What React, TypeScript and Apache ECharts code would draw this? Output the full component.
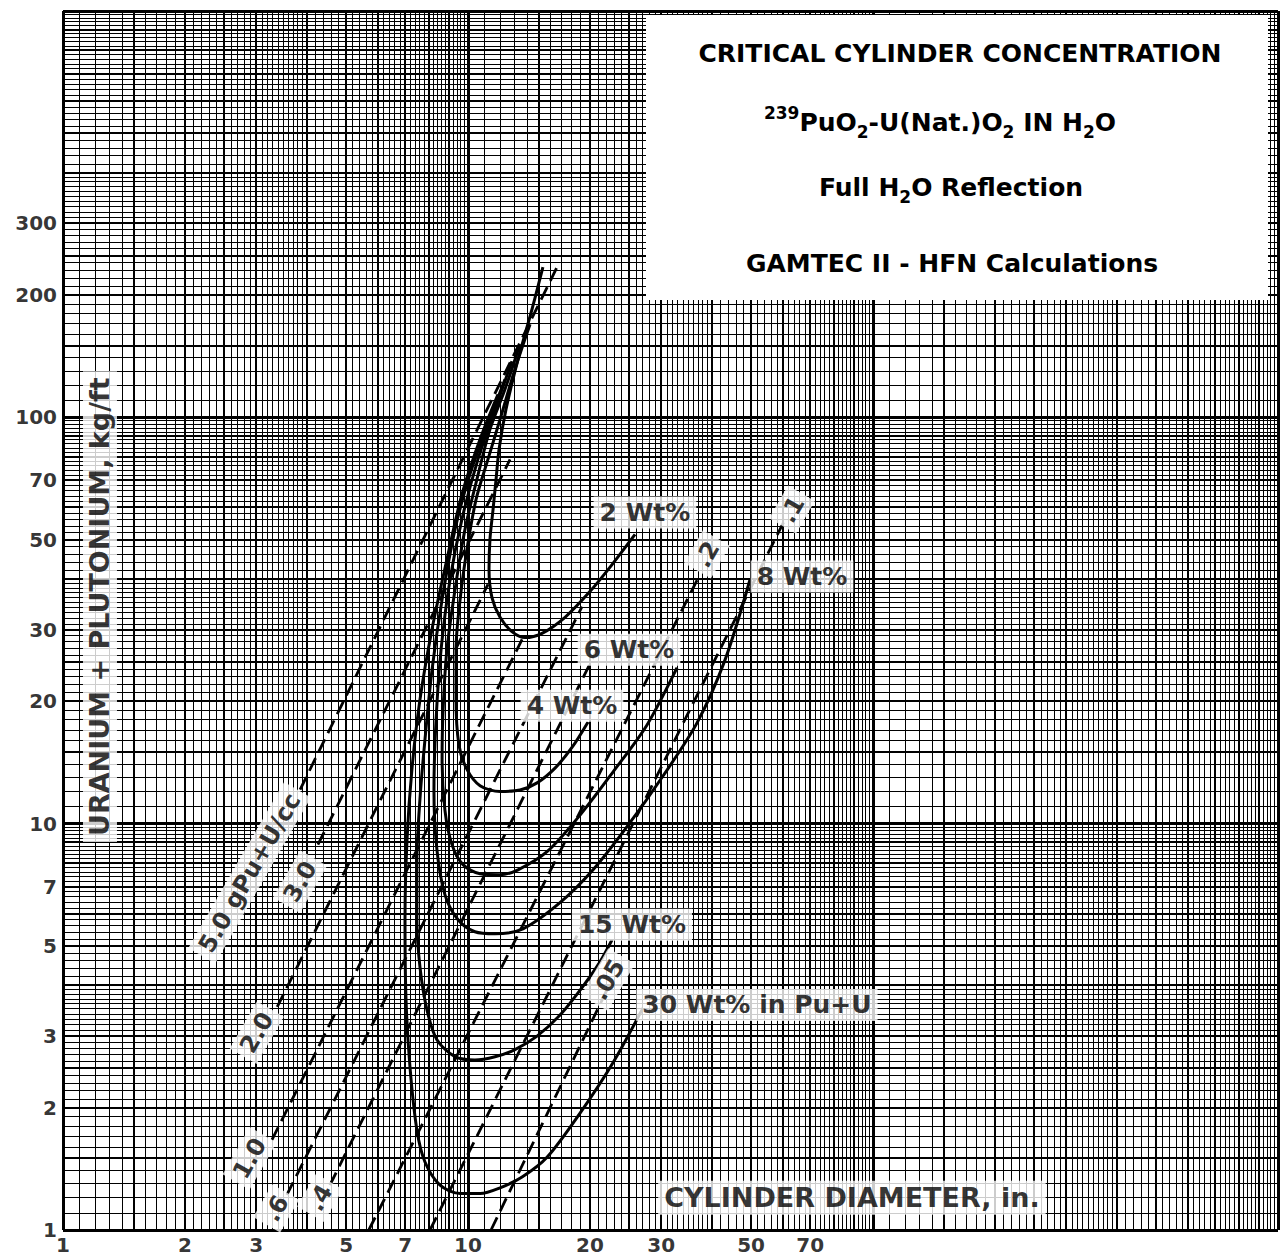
import React, { useEffect, useRef } from "react";
import * as echarts from "echarts";

const FONT = '"DejaVu Sans", "Liberation Sans", sans-serif';

// ---- axis tick labels ----
const xTickValues = [1, 2, 3, 5, 7, 10, 20, 30, 50, 70];
const yTickValues = [1, 2, 3, 5, 7, 10, 20, 30, 50, 70, 100, 200, 300];

// ---- log-paper rulings (mantissas inside each decade) ----
const rulingMantissas = [
  1, 1.1, 1.2, 1.3, 1.4, 1.5, 1.6, 1.7, 1.8, 1.9,
  2, 2.1, 2.2, 2.3, 2.4, 2.5, 2.6, 2.7, 2.8, 2.9,
  3, 3.1, 3.2, 3.3, 3.4, 3.5, 3.6, 3.7, 3.8, 3.9,
  4, 4.2, 4.4, 4.6, 4.8, 5, 5.2, 5.4, 5.6, 5.8,
  6, 6.2, 6.4, 6.6, 6.8, 7, 7.2, 7.4, 7.6, 7.8,
  8, 8.2, 8.4, 8.6, 8.8, 9, 9.2, 9.4, 9.6, 9.8,
];
const heavyMantissas = [2, 3, 4, 5, 6, 7, 8, 9];
const mediumMantissas = [1.5, 2.5];
const decades = [1, 10, 100];
const axisMin = 1;
const axisMax = 1000;

// ---- critical-concentration curves (diameter in., kg/ft) ----
const curveNames = ["2 Wt%", "4 Wt%", "6 Wt%", "8 Wt%", "15 Wt%", "30 Wt%"];
const curve2Wt = [[15.31,234.2],[14.39,184.5],[13.29,138.9],[12.41,104.6],[11.93,83.4],[11.73,70.4],[11.53,59.3],[11.33,50.1],[11.27,42.2],[11.46,36.0],[12.0,32.2],[12.84,29.7],[13.83,28.7],[15.23,29.4],[17.36,32.2],[20.02,37.3],[22.68,43.4],[25.85,51.5]];
const curve4Wt = [[14.23,169.5],[13.06,131.3],[12.0,98.9],[11.2,78.8],[10.47,62.8],[9.94,47.3],[9.56,35.6],[9.34,26.8],[9.34,20.2],[9.5,15.6],[9.94,13.6],[10.71,12.4],[12.0,12.0],[13.44,12.1],[14.81,12.6],[16.4,13.7],[18.06,15.4],[19.79,17.8]];
const curve6Wt = [[13.44,151.3],[12.34,117.2],[11.33,93.4],[10.52,70.4],[9.83,53.0],[9.29,37.7],[8.87,26.8],[8.68,19.1],[8.63,14.4],[8.77,10.8],[9.13,8.88],[9.72,7.93],[10.71,7.53],[12.0,7.49],[13.29,7.7],[15.67,8.53],[18.91,10.5],[22.8,13.4],[27.67,17.5],[32.81,24.2]];
const curve8Wt = [[12.84,137.4],[11.66,104.6],[10.58,78.8],[9.66,56.1],[9.03,39.9],[8.58,26.8],[8.34,18.0],[8.24,12.1],[8.38,8.63],[8.77,6.69],[9.45,5.8],[10.4,5.42],[11.66,5.36],[13.67,5.51],[16.87,6.39],[20.36,7.7],[24.7,9.83],[30.3,13.1],[36.77,17.7],[43.12,25.3],[49.7,39.9]];
const curve15Wt = [[12.34,124.1],[11.2,96.1],[10.11,72.4],[9.29,53.0],[8.63,35.6],[8.15,23.9],[7.83,16.1],[7.61,11.5],[7.48,8.15],[7.48,5.8],[7.61,4.44],[7.92,3.48],[8.38,2.94],[9.29,2.67],[10.4,2.62],[11.66,2.67],[13.06,2.78],[14.81,3.0],[16.87,3.38],[19.12,3.95],[21.18,4.57],[22.68,5.18]];
const curve30Wt = [[11.86,113.9],[10.71,88.3],[9.66,64.6],[8.87,44.7],[8.15,30.1],[7.61,20.2],[7.27,13.6],[7.07,9.13],[6.99,5.8],[7.03,3.69],[7.19,2.52],[7.48,1.76],[7.83,1.47],[8.53,1.29],[9.56,1.23],[10.71,1.23],[12.0,1.27],[13.6,1.35],[15.67,1.51],[18.91,1.94],[22.8,2.58],[27.05,3.52]];
const curves = [curve2Wt, curve4Wt, curve6Wt, curve8Wt, curve15Wt, curve30Wt];

const wtLabelTexts = ["2 Wt%", "4 Wt%", "6 Wt%", "8 Wt%", "15 Wt%", "30 Wt% in Pu+U"];
const wtLabelAnchors = [[27.35,58.3],[18.06,19.5],[24.98,26.8],[66.8,40.6],[25.4,5.64],[51.7,3.58]];

// ---- constant-density lines (g Pu+U / cc) ----
const densityLabels = ["5.0 gPu+U/cc", "3.0", "2.0", "1.0", ".6", ".4", ".2", ".1", ".05"];
const densityLineStart = [[3.85,12.13],[4.26,8.88],[3.38,3.54],[3.28,1.666],[3.57,1.22],[4.56,1.29],[5.69,1],[8.06,1],[11.4,1]];
const densityLineEnd = [[16.59,234.2],[12.7,78.8],[11.2,38.8],[13.6,28.4],[19.12,34.2],[20.83,26.8],[37.4,41.06],[60.63,56.1],[22.04,3.9]];
const densityLabelAnchors = [[2.89,7.57],[3.85,7.2],[3.01,3.06],[2.89,1.5],[3.36,1.13],[4.31,1.2],[38.9,46.0],[63.1,59.3],[22.17,4.13]];

// ---- axis titles ----
const xAxisTitle = "CYLINDER DIAMETER, in.";
const xAxisTitleAnchor = [88.7, 1.2];
const yAxisTitle = "URANIUM + PLUTONIUM, kg/ft";
const yAxisTitleAnchor = [1.234, 34.2];

function buildRulings() {
  const out: number[][] = [];
  decades.forEach((d) => {
    rulingMantissas.forEach((m) => {
      const v = Math.round(m * d * 1e6) / 1e6;
      let w = 1;
      if (m === 1) w = 3;
      else if (heavyMantissas.includes(m)) w = 2;
      else if (mediumMantissas.includes(m)) w = 2;
      out.push([v, w]);
    });
  });
  out.push([axisMax, 3]);
  return out;
}

function crisp(p: number, w: number) {
  return w % 2 === 1 ? Math.round(p - 0.5) + 0.5 : Math.round(p);
}

export default function App() {
  const ref = useRef<HTMLDivElement>(null);

  useEffect(() => {
    if (!ref.current) return;
    const chart = echarts.init(ref.current, undefined, { renderer: "svg" });
    const rulings = buildRulings();

    const labelBase = {
      show: true,
      color: "#000",
      fontFamily: FONT,
      fontWeight: "bold" as const,
    };

    const series: any[] = [];

    // vertical rulings
    series.push({
      type: "custom",
      silent: true,
      z: 1,
      clip: false,
      data: rulings.map((r) => [r[0], axisMin, r[1]]),
      renderItem: (params: any, api: any) => {
        const v = api.value(0);
        const w = api.value(2);
        const a = api.coord([v, axisMin]);
        const b = api.coord([v, axisMax]);
        const x = crisp(a[0], w);
        return {
          type: "line",
          shape: { x1: x, y1: a[1], x2: x, y2: b[1] },
          style: { stroke: "#000", lineWidth: w },
        };
      },
    });
    // horizontal rulings
    series.push({
      type: "custom",
      silent: true,
      z: 1,
      clip: false,
      data: rulings.map((r) => [axisMin, r[0], r[1]]),
      renderItem: (params: any, api: any) => {
        const v = api.value(1);
        const w = api.value(2);
        const a = api.coord([axisMin, v]);
        const b = api.coord([axisMax, v]);
        const y = crisp(a[1], w);
        return {
          type: "line",
          shape: { x1: a[0], y1: y, x2: b[0], y2: y },
          style: { stroke: "#000", lineWidth: w },
        };
      },
    });

    // density dashed lines
    densityLabels.forEach((name, i) => {
      series.push({
        type: "line",
        name: name,
        z: 3,
        silent: true,
        showSymbol: false,
        symbol: "none",
        data: [densityLineStart[i], densityLineEnd[i]],
        lineStyle: { color: "#000", width: 2.8, type: [14, 7] },
      });
    });

    // Wt% curves
    curves.forEach((c, i) => {
      series.push({
        type: "line",
        name: curveNames[i],
        z: 4,
        silent: true,
        showSymbol: false,
        symbol: "none",
        smooth: 0.3,
        data: c,
        lineStyle: { color: "#000", width: 3 },
      });
    });

    // tick labels (x)
    series.push({
      type: "scatter",
      silent: true,
      clip: false,
      z: 6,
      symbolSize: 0,
      data: xTickValues.map((v) => ({ name: String(v), value: [v, axisMin] })),
      label: { ...labelBase, position: "bottom", distance: 5, fontSize: 20, formatter: "{b}" },
    });
    // tick labels (y)
    series.push({
      type: "scatter",
      silent: true,
      clip: false,
      z: 6,
      symbolSize: 0,
      data: yTickValues.map((v) => ({ name: String(v), value: [axisMin, v] })),
      label: { ...labelBase, position: "left", distance: 6, fontSize: 20, formatter: "{b}" },
    });

    // Wt% labels
    series.push({
      type: "scatter",
      silent: true,
      clip: false,
      z: 8,
      symbolSize: 0,
      data: wtLabelTexts.map((t, i) => ({ name: t, value: wtLabelAnchors[i] })),
      label: {
        ...labelBase,
        position: "inside",
        fontSize: 25,
        formatter: "{b}",
        backgroundColor: "#fff",
        padding: [4, 6, 3, 6],
      },
    });

    // density labels
    series.push({
      type: "scatter",
      silent: true,
      clip: false,
      z: 8,
      symbolSize: 0,
      data: densityLabels.map((t, i) => ({ name: t, value: densityLabelAnchors[i] })),
      label: {
        ...labelBase,
        position: "inside",
        fontSize: 24,
        rotate: 60,
        formatter: "{b}",
        backgroundColor: "#fff",
        padding: [4, 6, 3, 6],
      },
    });

    // axis titles
    series.push({
      type: "scatter",
      silent: true,
      clip: false,
      z: 8,
      symbolSize: 0,
      data: [{ name: xAxisTitle, value: xAxisTitleAnchor }],
      label: {
        ...labelBase,
        position: "inside",
        fontSize: 27,
        formatter: "{b}",
        backgroundColor: "#fff",
        padding: [4, 6, 3, 6],
      },
    });
    series.push({
      type: "scatter",
      silent: true,
      clip: false,
      z: 8,
      symbolSize: 0,
      data: [{ name: yAxisTitle, value: yAxisTitleAnchor }],
      label: {
        ...labelBase,
        position: "inside",
        fontSize: 27,
        rotate: 90,
        formatter: "{b}",
        backgroundColor: "#fff",
        padding: [4, 6, 3, 6],
      },
    });

    const titleFont = { fontFamily: FONT, fontWeight: "bold", fill: "#000" };
    const rich = {
      n: { fontFamily: FONT, fontWeight: "bold", fontSize: 25, lineHeight: 36, color: "#000" },
      sub: { fontFamily: FONT, fontWeight: "bold", fontSize: 17, lineHeight: 17, verticalAlign: "bottom", color: "#000" },
      sup: { fontFamily: FONT, fontWeight: "bold", fontSize: 17, lineHeight: 17, verticalAlign: "top", color: "#000" },
    };

    const option: any = {
      animation: false,
      backgroundColor: "#fff",
      grid: { left: 63, right: 2, top: 11, bottom: 26, containLabel: false },
      xAxis: {
        type: "log",
        logBase: 10,
        min: axisMin,
        max: axisMax,
        axisLine: { show: false },
        axisTick: { show: false },
        axisLabel: { show: false },
        splitLine: { show: false },
      },
      yAxis: {
        type: "log",
        logBase: 10,
        min: axisMin,
        max: axisMax,
        axisLine: { show: false },
        axisTick: { show: false },
        axisLabel: { show: false },
        splitLine: { show: false },
      },
      graphic: [
        {
          type: "rect",
          z: 100,
          shape: { x: 646, y: 15, width: 622, height: 285 },
          style: { fill: "#fff" },
        },
        {
          type: "text",
          z: 101,
          x: 960,
          y: 53,
          style: { ...titleFont, text: "CRITICAL CYLINDER CONCENTRATION", fontSize: 25, align: "center", verticalAlign: "middle" },
        },
        {
          type: "text",
          z: 101,
          x: 940,
          y: 122,
          style: {
            text: "{sup|239}{n|PuO}{sub|2}{n|-U(Nat.)O}{sub|2}{n| IN H}{sub|2}{n|O}",
            rich,
            align: "center",
            verticalAlign: "middle",
          },
        },
        {
          type: "text",
          z: 101,
          x: 951,
          y: 187,
          style: {
            text: "{n|Full H}{sub|2}{n|O Reflection}",
            rich,
            align: "center",
            verticalAlign: "middle",
          },
        },
        {
          type: "text",
          z: 101,
          x: 952,
          y: 263,
          style: { ...titleFont, text: "GAMTEC II - HFN Calculations", fontSize: 25, align: "center", verticalAlign: "middle" },
        },
      ],
      series,
    };

    chart.setOption(option);
    return () => chart.dispose();
  }, []);

  return (
    <div
      ref={ref}
      style={{ position: "absolute", left: 0, top: 0, width: 1280, height: 1256, background: "#fff" }}
    />
  );
}
